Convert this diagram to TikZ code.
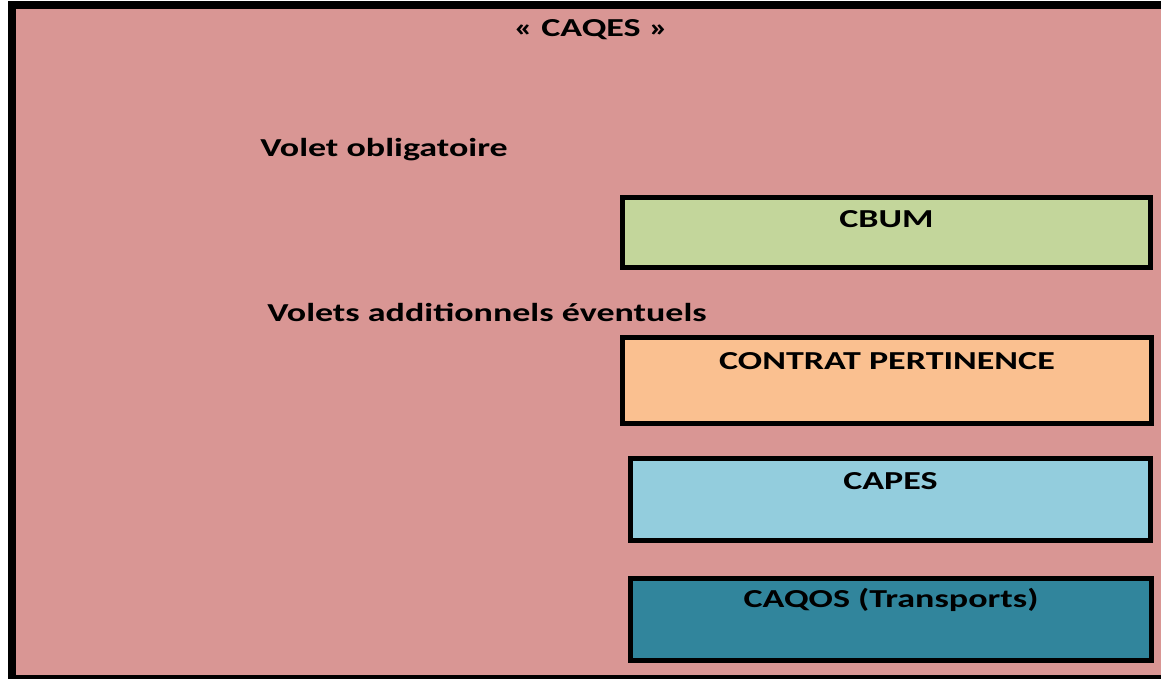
\documentclass[tikz,border=0pt]{standalone}
\usepackage{fontspec}
\setmainfont{Carlito}
\usepackage{tikz}
\usetikzlibrary{positioning,calc}

\definecolor{caqespink}{HTML}{D99694}
\definecolor{cbumgreen}{HTML}{C3D69B}
\definecolor{pertorange}{HTML}{FAC090}
\definecolor{capesblue}{HTML}{93CDDD}
\definecolor{caqosteal}{HTML}{31859C}

\begin{document}
\begin{tikzpicture}[x=1bp, y=-1bp]
  % Styles
  \tikzstyle{volet} = [rectangle, draw=black, line width=5bp, anchor=north west, inner sep=0pt]
  \tikzstyle{heading} = [font=\fontsize{26}{30}\selectfont\bfseries, xscale=1.39, inner sep=0pt, anchor=base]
  \tikzstyle{headleft} = [heading, anchor=base west]

  % Page frame
  \useasboundingbox (0,0) rectangle (1161,679);
  \clip (0,0) rectangle (1161,679);
  \fill[white] (0,0) rectangle (1161,679);
  \node[rectangle, draw=black, fill=caqespink, line width=7.5bp, anchor=north west,
        minimum width=1158bp, minimum height=673bp, inner sep=0pt] (frame) at (8,1.5) {};

  % Titles
  \node[heading] (caqes) at (591,36.7) {« CAQES »};
  \node[headleft] (oblig) at (260,156.7) {Volet obligatoire};
  \node[headleft] (addit) at (267,321) {Volets additionnels éventuels};

  % Boxes (placed by their outer corner)
  \node[volet, fill=cbumgreen, minimum width=528bp, minimum height=70bp] (cbum) at (620,195) {};
  \node[volet, fill=pertorange, minimum width=529bp, minimum height=86bp] (pertinence) at (620,335) {};
  \node[volet, fill=capesblue, minimum width=520bp, minimum height=82bp] (capes) at (628,456) {};
  \node[volet, fill=caqosteal, minimum width=521bp, minimum height=82bp] (caqos) at (628,576) {};

  % Box labels
  \node[heading] (cbumtxt) at ($(cbum.north)+(0,33)$) {CBUM};
  \node[heading] (pertinencetxt) at ($(pertinence.north)+(0,34)$) {CONTRAT PERTINENCE};
  \node[heading] (capestxt) at ($(capes.north)+(0,33)$) {CAPES};
  \node[heading] (caqostxt) at ($(caqos.north)+(0,31)$) {CAQOS (Transports)};

\end{tikzpicture}
\end{document}
